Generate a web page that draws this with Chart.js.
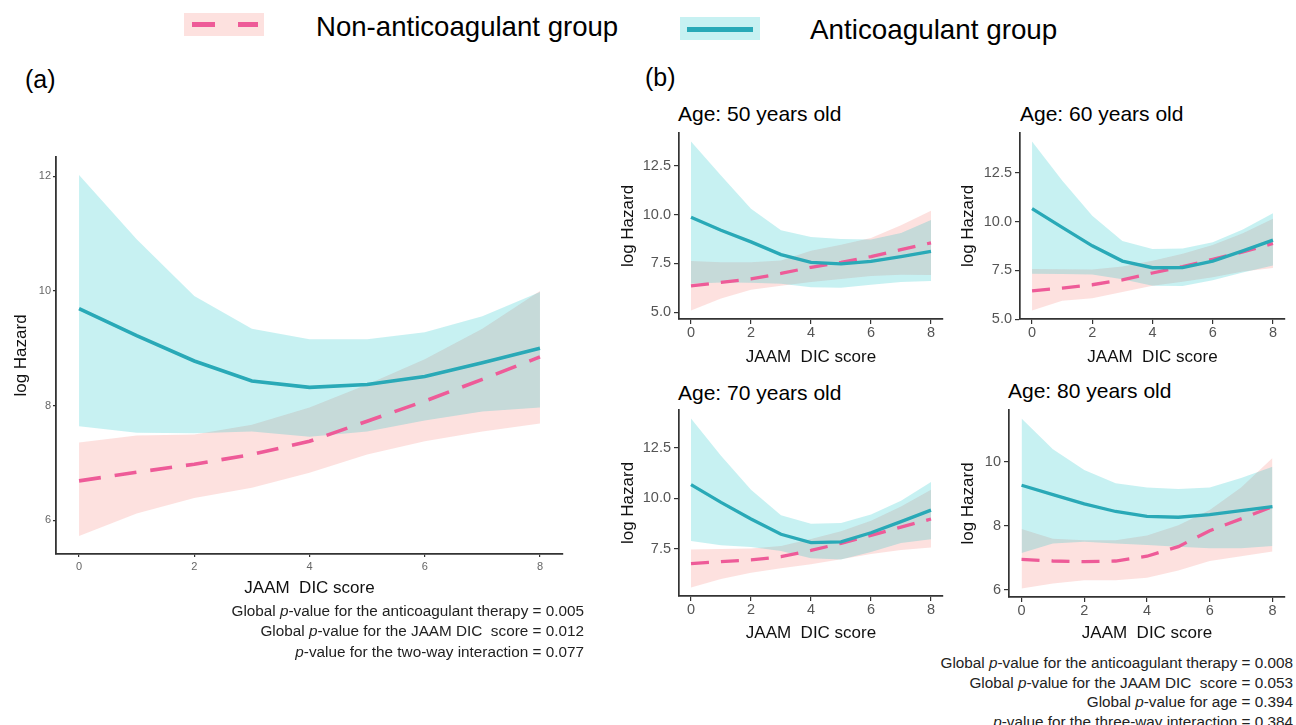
<!DOCTYPE html>
<html>
<head>
<meta charset="utf-8">
<script src="https://cdn.jsdelivr.net/npm/chart.js@4.4.1/dist/chart.umd.min.js"></script>
<style>
  body { margin: 0; background: #fff; }
  #fig { position: relative; width: 1296px; height: 725px; overflow: hidden;
         font-family: "Liberation Sans", Arial, sans-serif; color: #000; background: #fff; }
  .txt { position: absolute; white-space: pre; }
  .box { position: absolute; }
  canvas { position: absolute; }
  .note { position: absolute; text-align: right; font-size: 15.3px; color: #222; white-space: pre; }
</style>
</head>
<body>
<div id="fig">
  <!-- legend -->
  <div class="box" style="left:184px;top:13px;width:80px;height:23px;background:rgba(248,118,109,0.22)"></div>
  <div class="box" style="left:192px;top:22px;width:23px;height:5px;background:#EE5B98"></div>
  <div class="box" style="left:238px;top:22px;width:20px;height:5px;background:#EE5B98"></div>
  <div class="txt" style="left:316px;top:13px;font-size:27.6px;line-height:27px;">Non-anticoagulant group</div>
  <div class="box" style="left:680px;top:17px;width:80px;height:23px;background:rgba(0,191,196,0.22)"></div>
  <div class="box" style="left:687px;top:27px;width:66px;height:5px;background:#29A9B7"></div>
  <div class="txt" style="left:810px;top:16px;font-size:27.8px;line-height:27px;">Anticoagulant group</div>

  <div class="txt" style="left:25px;top:67px;font-size:25px;line-height:25px;">(a)</div>
  <div class="txt" style="left:645px;top:65px;font-size:25px;line-height:25px;">(b)</div>

  <div class="txt" style="left:678px;top:103px;font-size:21px;line-height:21px;">Age: 50 years old</div>
  <div class="txt" style="left:1020px;top:103px;font-size:21px;line-height:21px;">Age: 60 years old</div>
  <div class="txt" style="left:678px;top:382px;font-size:21px;line-height:21px;">Age: 70 years old</div>
  <div class="txt" style="left:1008px;top:380px;font-size:21px;line-height:21px;">Age: 80 years old</div>

  <canvas id="pa"></canvas>
  <canvas id="p50"></canvas>
  <canvas id="p60"></canvas>
  <canvas id="p70"></canvas>
  <canvas id="p80"></canvas>

  <div class="note" style="left:0;top:601px;width:584px;line-height:20.3px;">Global <i>p</i>-value for the anticoagulant therapy = 0.005
Global <i>p</i>-value for the JAAM DIC  score = 0.012
<i>p</i>-value for the two-way interaction = 0.077</div>
  <div class="note" style="left:700px;top:653px;width:593px;line-height:19.6px;">Global <i>p</i>-value for the anticoagulant therapy = 0.008
Global <i>p</i>-value for the JAAM DIC  score = 0.053
Global <i>p</i>-value for age = 0.394
<i>p</i>-value for the three-way interaction = 0.384</div>
</div>

<script>
// JAAM DIC score (x) and tick labels
const score = [0, 1, 2, 3, 4, 5, 6, 7, 8];
const xTicks = [0, 2, 4, 6, 8];

// (a) overall model
const aAntiFit   = [9.69, 9.22, 8.78, 8.43, 8.32, 8.37, 8.51, 8.75, 9.00];
const aAntiUpper = [12.02, 10.90, 9.91, 9.34, 9.16, 9.16, 9.28, 9.56, 9.98];
const aAntiLower = [7.64, 7.53, 7.52, 7.55, 7.46, 7.55, 7.74, 7.90, 7.97];
const aNonFit    = [6.69, 6.84, 6.98, 7.15, 7.38, 7.73, 8.08, 8.46, 8.85];
const aNonUpper  = [7.36, 7.48, 7.50, 7.67, 7.97, 8.37, 8.81, 9.34, 10.00];
const aNonLower  = [5.73, 6.12, 6.39, 6.57, 6.83, 7.15, 7.38, 7.55, 7.69];
const aYTicks = [6, 8, 10, 12];

// (b) age 50
const b50AntiFit   = [9.86, 9.20, 8.60, 7.95, 7.55, 7.47, 7.60, 7.85, 8.12];
const b50AntiUpper = [13.75, 12.00, 10.30, 9.20, 8.85, 8.75, 8.72, 9.05, 9.72];
const b50AntiLower = [6.45, 6.52, 6.50, 6.45, 6.28, 6.25, 6.40, 6.55, 6.60];
const b50NonFit    = [6.35, 6.52, 6.70, 6.98, 7.30, 7.55, 7.85, 8.20, 8.55];
const b50NonUpper  = [7.62, 7.55, 7.55, 7.65, 8.15, 8.45, 8.80, 9.45, 10.20];
const b50NonLower  = [5.08, 5.70, 6.15, 6.35, 6.55, 6.70, 6.85, 6.92, 6.90];
const b50YTicks = [5, 7.5, 10, 12.5];

// (b) age 60
const b60AntiFit   = [10.66, 9.70, 8.76, 7.98, 7.64, 7.65, 7.98, 8.50, 9.05];
const b60AntiUpper = [14.10, 12.10, 10.30, 9.01, 8.60, 8.62, 8.95, 9.60, 10.43];
const b60AntiLower = [7.33, 7.32, 7.30, 7.05, 6.72, 6.70, 7.00, 7.40, 7.75];
const b60NonFit    = [6.46, 6.60, 6.77, 7.02, 7.37, 7.70, 8.07, 8.45, 8.88];
const b60NonUpper  = [7.58, 7.56, 7.55, 7.70, 8.00, 8.35, 8.80, 9.40, 10.14];
const b60NonLower  = [5.45, 5.95, 6.08, 6.40, 6.72, 6.92, 7.15, 7.45, 7.63];
const b60YTicks = [5, 7.5, 10, 12.5];

// (b) age 70
const b70AntiFit   = [10.68, 9.80, 8.98, 8.23, 7.82, 7.85, 8.30, 8.85, 9.42];
const b70AntiUpper = [13.94, 12.10, 10.42, 9.17, 8.75, 8.78, 9.20, 9.88, 10.80];
const b70AntiLower = [7.90, 7.68, 7.60, 7.40, 7.05, 6.98, 7.35, 7.80, 7.98];
const b70NonFit    = [6.78, 6.88, 6.96, 7.12, 7.43, 7.78, 8.17, 8.58, 8.98];
const b70NonUpper  = [7.48, 7.50, 7.52, 7.65, 8.00, 8.38, 8.90, 9.60, 10.42];
const b70NonLower  = [5.60, 6.02, 6.33, 6.55, 6.75, 7.00, 7.25, 7.45, 7.58];
const b70YTicks = [7.5, 10, 12.5];

// (b) age 80
const b80AntiFit   = [9.27, 8.98, 8.69, 8.45, 8.30, 8.27, 8.35, 8.48, 8.60];
const b80AntiUpper = [11.36, 10.40, 9.75, 9.33, 9.20, 9.15, 9.20, 9.50, 9.85];
const b80AntiLower = [7.15, 7.45, 7.50, 7.45, 7.40, 7.35, 7.30, 7.30, 7.37];
const b80NonFit    = [6.95, 6.90, 6.88, 6.90, 7.05, 7.35, 7.85, 8.22, 8.60];
const b80NonUpper  = [7.90, 7.60, 7.55, 7.55, 7.70, 8.02, 8.50, 9.20, 10.12];
const b80NonLower  = [6.04, 6.20, 6.30, 6.30, 6.38, 6.60, 6.90, 7.05, 7.20];
const b80YTicks = [6, 8, 10];

const teal = "#29A9B7";
const tealBand = "rgba(0,191,196,0.22)";
const pink = "#EE5B98";
const pinkBand = "rgba(248,118,109,0.22)";
const FONT = "'Liberation Sans', Arial, sans-serif";

const pts = (arr) => score.map((x, i) => ({ x: x, y: arr[i] }));

function panel(id, g, yTicks, s) {
  const cv = document.getElementById(id);
  cv.width = g.width; cv.height = g.height;
  cv.style.left = g.left + "px"; cv.style.top = g.top + "px";

  // ggplot-like 5% expansion of the data range
  const all = s.antiUp.concat(s.antiLow, s.nonUp, s.nonLow, s.antiFit, s.nonFit);
  const lo = Math.min(...all), hi = Math.max(...all), pad = (hi - lo) * 0.05;
  const xPad = (xTicks[xTicks.length - 1] - xTicks[0]) * 0.05;
  const decimals = yTicks.some((t) => t % 1 !== 0);
  const titleLH = g.titleFont * 1.2;

  const axisCommon = {
    type: "linear",
    grid: { display: true, drawOnChartArea: false, drawTicks: true, tickLength: g.tickLen, color: "#333", lineWidth: 1.2 },
    border: { display: true, color: "#333", width: g.axisW },
  };

  return new Chart(cv, {
    type: "line",
    data: {
      datasets: [
        { data: pts(s.antiFit), borderColor: teal, borderWidth: g.lineW, pointRadius: 0, fill: false, tension: 0, order: 0 },
        { data: pts(s.nonFit), borderColor: pink, borderWidth: g.lineW, borderDash: g.dash, pointRadius: 0, fill: false, tension: 0, order: 1 },
        { data: pts(s.antiUp), borderColor: "rgba(0,0,0,0)", borderWidth: 0, pointRadius: 0, backgroundColor: tealBand, fill: "+1", tension: 0, order: 2 },
        { data: pts(s.antiLow), borderColor: "rgba(0,0,0,0)", borderWidth: 0, pointRadius: 0, fill: false, tension: 0, order: 2 },
        { data: pts(s.nonUp), borderColor: "rgba(0,0,0,0)", borderWidth: 0, pointRadius: 0, backgroundColor: pinkBand, fill: "+1", tension: 0, order: 3 },
        { data: pts(s.nonLow), borderColor: "rgba(0,0,0,0)", borderWidth: 0, pointRadius: 0, fill: false, tension: 0, order: 3 },
      ],
    },
    options: {
      responsive: false,
      animation: false,
      events: [],
      devicePixelRatio: 1,
      layout: { padding: { left: 0, bottom: 0, top: g.T - g.top, right: g.left + g.width - g.R } },
      plugins: { legend: { display: false }, tooltip: { enabled: false } },
      scales: {
        x: {
          ...axisCommon,
          min: xTicks[0] - xPad,
          max: xTicks[xTicks.length - 1] + xPad,
          afterBuildTicks: (sc) => { sc.ticks = xTicks.map((v) => ({ value: v })); },
          afterFit: (sc) => { sc.height = g.top + g.height - g.B; },
          ticks: { autoSkip: false, maxRotation: 0, padding: g.xTickPad, color: g.tickColor, font: { family: FONT, size: g.tickFont } },
          title: {
            display: true, text: "JAAM  DIC score", color: "#111",
            font: { family: FONT, size: g.titleFont },
            padding: { top: 0, bottom: (g.top + g.height - g.xTitleY) - titleLH / 2 },
          },
        },
        y: {
          ...axisCommon,
          min: lo - pad,
          max: hi + pad,
          afterBuildTicks: (sc) => { sc.ticks = yTicks.map((v) => ({ value: v })); },
          afterFit: (sc) => { sc.width = g.L - g.left; },
          ticks: {
            padding: g.yTickPad, color: g.tickColor, font: { family: FONT, size: g.tickFont },
            callback: (v) => (decimals ? Number(v).toFixed(1) : String(v)),
          },
          title: {
            display: true, text: "log Hazard", color: "#111",
            font: { family: FONT, size: g.titleFont },
            padding: { top: (g.yTitleX - g.left) - titleLH / 2, bottom: 0 },
          },
        },
      },
    },
  });
}

const small = { tickFont: 14.5, titleFont: 17, tickLen: 5, yTickPad: 3, xTickPad: 0, tickColor: "#555", lineW: 3.3, axisW: 1.7, dash: [18, 12] };

panel("pa", { left: 0, top: 145, width: 575, height: 460, L: 56, R: 563, T: 157, B: 554, yTitleX: 21, xTitleY: 588,
  tickFont: 11, titleFont: 17, tickLen: 3, yTickPad: 2, xTickPad: 3, tickColor: "#666", lineW: 3.6, axisW: 1.8, dash: [22, 14] },
  aYTicks, { antiFit: aAntiFit, antiUp: aAntiUpper, antiLow: aAntiLower, nonFit: aNonFit, nonUp: aNonUpper, nonLow: aNonLower });

panel("p50", { ...small, left: 600, top: 120, width: 350, height: 255, L: 679, R: 943, T: 133, B: 319, yTitleX: 628, xTitleY: 357 },
  b50YTicks, { antiFit: b50AntiFit, antiUp: b50AntiUpper, antiLow: b50AntiLower, nonFit: b50NonFit, nonUp: b50NonUpper, nonLow: b50NonLower });

panel("p60", { ...small, left: 941, top: 120, width: 355, height: 255, L: 1020, R: 1285, T: 133, B: 319, yTitleX: 968, xTitleY: 357 },
  b60YTicks, { antiFit: b60AntiFit, antiUp: b60AntiUpper, antiLow: b60AntiLower, nonFit: b60NonFit, nonUp: b60NonUpper, nonLow: b60NonLower });

panel("p70", { ...small, left: 600, top: 397, width: 350, height: 255, L: 679, R: 943, T: 410, B: 596, yTitleX: 628, xTitleY: 633 },
  b70YTicks, { antiFit: b70AntiFit, antiUp: b70AntiUpper, antiLow: b70AntiLower, nonFit: b70NonFit, nonUp: b70NonUpper, nonLow: b70NonLower });

panel("p80", { ...small, left: 941, top: 397, width: 355, height: 255, L: 1009, R: 1285, T: 410, B: 597, yTitleX: 968, xTitleY: 633 },
  b80YTicks, { antiFit: b80AntiFit, antiUp: b80AntiUpper, antiLow: b80AntiLower, nonFit: b80NonFit, nonUp: b80NonUpper, nonLow: b80NonLower });
</script>
</body>
</html>
